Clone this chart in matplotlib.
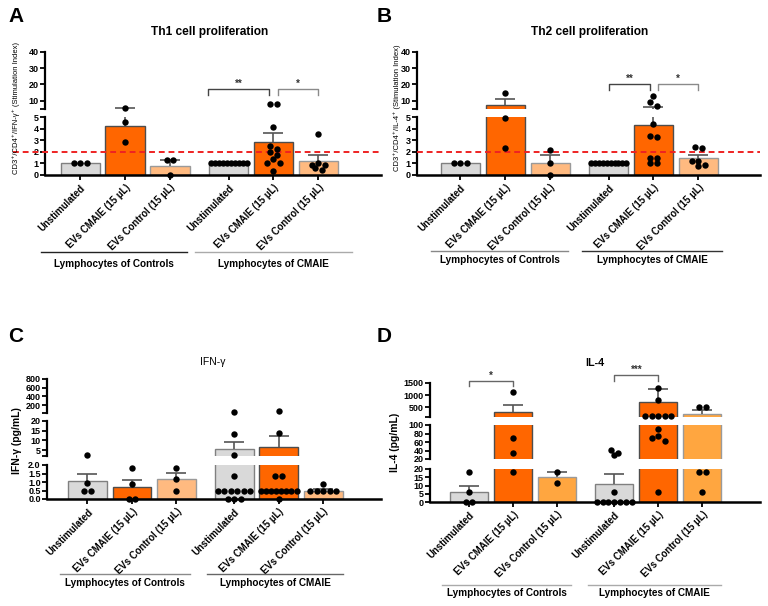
import matplotlib
matplotlib.use('Agg')
import matplotlib.pyplot as plt
from matplotlib.lines import Line2D

plt.rcParams['font.family'] = ['Liberation Sans', 'DejaVu Sans']

W, H = 768, 606

# categories (same for every panel)
conditions = ['Unstimulated', 'EVs CMAIE (15 μL)', 'EVs Control (15 μL)',
              'Unstimulated', 'EVs CMAIE (15 μL)', 'EVs Control (15 μL)']
groups = ['Lymphocytes of Controls', 'Lymphocytes of CMAIE']
positions = [0, 1, 2, 3.3, 4.3, 5.3]

# A - Th1 cell proliferation (stimulation index)
th1_mean = [1.0, 4.25, 0.82, 1.0, 2.85, 1.22]
th1_sem = [0, 1.35, 0.46, 0, 0.75, 0.5]
th1_points = [
    [1, 1, 1],
    [5.6, 4.6, 2.85],
    [1.28, 1.28, 0.0],
    [1, 1, 1, 1, 1, 1, 1, 1, 1, 1],
    [7.8, 7.8, 4.15, 2.49, 2.28, 1.96, 1.75, 1.4, 1.02, 1.02, 0.32],
    [3.55, 1.05, 0.85, 0.85, 0.6, 0.45],
]

# B - Th2 cell proliferation (stimulation index)
th2_mean = [1.0, 7.6, 1.05, 1.0, 4.3, 1.45]
th2_sem = [0, 3.7, 0.67, 0, 1.7, 0.3]
th2_points = [
    [1, 1, 1],
    [14.9, 4.95, 2.3],
    [2.2, 1.0, 0.0],
    [1, 1, 1, 1, 1, 1, 1, 1, 1, 1],
    [13.0, 9.0, 6.8, 4.4, 3.4, 3.25, 1.5, 1.5, 1.0, 1.0],
    [2.4, 2.3, 1.2, 1.2, 0.9, 0.75],
]

# C - IFN-gamma (pg/mL)
ifn_mean = [1.05, 0.7, 1.15, 5.4, 6.8, 0.5]
ifn_sem = [0.42, 0.43, 0.4, 3.6, 5.6, 0.08]
ifn_points = [
    [2.5, 0.92, 0.47, 0.47],
    [1.85, 0.9, 0.0, 0.0],
    [1.85, 1.15, 0.47],
    [50, 13.2, 2.7, 1.38, 0.47, 0.47, 0.47, 0.47, 0.47, 0.47, 0, 0, 0],
    [73, 13.7, 1.38, 1.38, 0.47, 0.47, 0.47, 0.47, 0.47, 0.47, 0.47, 0.47, 0],
    [0.9, 0.47, 0.47, 0.47, 0.47, 0.47],
]

# D - IL-4 (pg/mL)
il4_mean = [6, 318, 15, 10.9, 730, 211]
il4_sem = [3.9, 276, 3, 5.9, 510, 177]
il4_points = [
    [18, 6, 0, 0],
    [1142, 70, 34, 18],
    [18, 11.7],
    [41, 35, 29, 6, 0, 0, 0, 0, 0, 0, 0],
    [1306, 800, 141, 141, 141, 141, 141, 91, 74, 69, 63, 6],
    [524, 524, 18, 18, 6],
]

GRAY, ORANGE, LIGHT, LIGHT_D = '#D9D9D9', '#FF6600', '#FFBA80', '#FFA640'
EDGES = ['#808080', '#4D4D4D', '#9A9A9A', '#808080', '#4D4D4D', '#9A9A9A']


def px_rect(x0, x1, ytop, ybot):
    return [x0 / W, 1 - ybot / H, (x1 - x0) / W, (ybot - ytop) / H]


def find_seg(v, segs):
    for k, s in enumerate(segs):
        if v <= s[3] or k == len(segs) - 1:
            return k
    return len(segs) - 1


def value_px(v, segs):
    ytop, ybot, lo, hi = segs[find_seg(v, segs)]
    return ybot - (v - lo) / (hi - lo) * (ybot - ytop)


def swarm_offsets(vals, segs, bar_px, d=6.5):
    # rows of points at (almost) the same height, spread around the centre
    order = sorted(range(len(vals)), key=lambda i: -vals[i])
    rows, cur = [], []
    for i in order:
        if cur and abs(value_px(vals[i], segs) - value_px(vals[cur[0]], segs)) > 0.75 * d:
            rows.append(cur)
            cur = []
        cur.append(i)
    rows.append(cur)
    offs = [0.0] * len(vals)
    for row in rows:
        n = len(row)
        step = d if n < 2 else min(d, bar_px * 0.92 / (n - 1))
        slots = [(j - (n - 1) / 2) * step for j in range(n)]
        slots.sort(key=lambda s: (abs(s), s))
        for i, s in zip(row, slots):
            offs[i] = s
    return offs


def draw_panel(fig, x0, x1, segs, xlim, means, sems, points, colors, ticks, ticklabels):
    ppu = (x1 - x0) / (xlim[1] - xlim[0])
    axes = []
    for k, (ytop, ybot, lo, hi) in enumerate(segs):
        ax = fig.add_axes(px_rect(x0, x1, ytop, ybot))
        ax.set_xlim(xlim)
        ax.set_ylim(lo, hi)
        ax.bar(positions, means, width=0.87, color=colors, edgecolor=EDGES,
               linewidth=1.0, zorder=2)
        # upper SEM bars
        for x, m, s in zip(positions, means, sems):
            if s <= 0:
                continue
            ax.vlines(x, m, m + s, color='#555555', lw=1.2, zorder=3)
            if find_seg(m + s, segs) == k:
                ax.hlines(m + s, x - 10 / ppu, x + 10 / ppu, color='#555555',
                          lw=1.2, zorder=3, clip_on=False)
        for sp in ['top', 'right']:
            ax.spines[sp].set_visible(False)
        ax.spines['left'].set_linewidth(1.6)
        ax.set_yticks(ticks[k])
        ax.set_yticklabels(ticklabels[k], fontsize=6.5, fontweight='bold')
        ax.tick_params(axis='y', length=3.5, width=1.3, pad=1)
        if k == 0:
            ax.spines['bottom'].set_linewidth(1.8)
            ax.set_xticks(positions)
            ax.set_xticklabels(conditions, rotation=45, ha='right',
                               rotation_mode='anchor', fontsize=6.9, fontweight='bold')
            ax.tick_params(axis='x', length=3.5, width=1.3, pad=2)
        else:
            ax.spines['bottom'].set_visible(False)
            ax.set_xticks([])
        ax.patch.set_alpha(0)
        axes.append(ax)

    # individual values
    for x, vals in zip(positions, points):
        offs = swarm_offsets(vals, segs, 0.87 * ppu)
        for v, o in zip(vals, offs):
            ax = axes[find_seg(v, segs)]
            ax.plot(x + o / ppu, v, 'o', color='black', ms=4.6, mew=0,
                    clip_on=False, zorder=6)
    return axes


def bracket(ax, i, j, ytop, ydrop, label, color, a=0.0, b=0.0):
    xa, xb = positions[i] + a, positions[j] + b
    ax.plot([xa, xa, xb, xb], [ydrop, ytop, ytop, ydrop], color=color,
            lw=1.0, clip_on=False, zorder=5)
    ax.text((xa + xb) / 2, ytop, label, ha='center', va='bottom',
            fontsize=7, fontweight='bold', color='#333333')


def group_labels(fig, lines, y_line, y_text, colors):
    for (xa, xb), name, c in zip(lines, groups, colors):
        fig.add_artist(Line2D([xa / W, xb / W], [1 - y_line / H] * 2, color=c, lw=1.0))
        fig.text((xa + xb) / 2 / W, 1 - y_text / H, name, ha='center', va='center',
                 fontsize=7.2, fontweight='bold')


fig = plt.figure(figsize=(7.68, 6.06), dpi=100)

# ---------------- A ----------------
segs_ab = [(117.3, 175, 0, 5), (51.7, 109, 5, 40)]
ticks_ab = [[0, 1, 2, 3, 4, 5], [5, 10, 20, 30, 40]]
labels_ab = [['0', '1', '2', '3', '4', '5'], ['', '10', '20', '30', '40']]
cols_abc = [GRAY, ORANGE, LIGHT, GRAY, ORANGE, LIGHT]

axA = draw_panel(fig, 45, 381, segs_ab, (-0.78, 6.69), th1_mean, th1_sem,
                 th1_points, cols_abc, ticks_ab, labels_ab)
axA[0].axhline(2, xmin=-0.095, xmax=1.0, color='#EE2222', lw=1.4,
               ls=(0, (3, 2)), clip_on=False, zorder=4)
bracket(axA[1], 3, 4, 17.3, 13.6, '**', '#444444', a=-0.45, b=-0.1)
bracket(axA[1], 4, 5, 17.3, 13.6, '*', '#8A8A8A', a=0.1)
fig.text(210 / W, 1 - 32 / H, 'Th1 cell proliferation', ha='center', va='center',
         fontsize=8.6, fontweight='bold')
fig.text(16 / W, 1 - 108 / H, 'CD3⁺/CD4⁺/IFN-γ⁺ (Stimulation Index)', rotation=90,
         ha='center', va='center', fontsize=5.5)
group_labels(fig, [(41, 187), (195, 352)], 252, 264, ['#222222', '#AAAAAA'])

# ---------------- B ----------------
axB = draw_panel(fig, 417, 760, segs_ab, (-0.96, 6.67), th2_mean, th2_sem,
                 th2_points, cols_abc, ticks_ab, labels_ab)
axB[0].axhline(2, xmin=0, xmax=1.0, color='#EE2222', lw=1.4,
               ls=(0, (3, 2)), clip_on=False, zorder=4)
bracket(axB[1], 3, 4, 20.3, 16.6, '**', '#444444', b=-0.07)
bracket(axB[1], 4, 5, 20.3, 16.6, '*', '#8A8A8A', a=0.1)
fig.text(590 / W, 1 - 32 / H, 'Th2 cell proliferation', ha='center', va='center',
         fontsize=8.6, fontweight='bold')
fig.text(397 / W, 1 - 108 / H, 'CD3⁺/CD4⁺/IL-4⁺ (Stimulation Index)', rotation=90,
         ha='center', va='center', fontsize=5.5)
group_labels(fig, [(431, 568), (582, 722)], 251, 260, ['#888888', '#333333'])

# ---------------- C ----------------
segs_c = [(465, 499, 0, 2), (421, 456, 2, 20), (379, 413, 20, 800)]
ticks_c = [[0, 0.5, 1, 1.5, 2], [2, 5, 10, 15, 20], [20, 200, 400, 600, 800]]
labels_c = [['0.0', '0.5', '1.0', '1.5', '2.0'], ['', '5', '10', '15', '20'],
            ['', '200', '400', '600', '800']]
axC = draw_panel(fig, 47, 381, segs_c, (-0.91, 6.6), ifn_mean, ifn_sem,
                 ifn_points, cols_abc, ticks_c, labels_c)
fig.text(213 / W, 1 - 362 / H, 'IFN-γ', ha='center', va='center', fontsize=7.5)
fig.text(17 / W, 1 - 441 / H, 'IFN-γ (pg/mL)', rotation=90, ha='center',
         va='center', fontsize=7.5, fontweight='bold')
group_labels(fig, [(60, 190), (207, 343)], 574, 583, ['#8A8A8A', '#666666'])

# ---------------- D ----------------
segs_d = [(469, 502, 0, 20), (425, 459, 20, 100), (383, 417, 100, 1500)]
ticks_d = [[0, 5, 10, 15, 20], [20, 40, 60, 80, 100], [100, 500, 1000, 1500]]
labels_d = [['0', '5', '10', '15', '20'], ['20', '40', '60', '80', '100'],
            ['', '500', '1000', '1500']]
cols_d = [GRAY, ORANGE, LIGHT_D, GRAY, ORANGE, LIGHT_D]
axD = draw_panel(fig, 430, 760, segs_d, (-0.886, 6.61), il4_mean, il4_sem,
                 il4_points, cols_d, ticks_d, labels_d)
bracket(axD[2], 0, 1, 1594, 1376, '*', '#666666')
bracket(axD[2], 3, 4, 1829, 1582, '***', '#666666')
fig.text(595 / W, 1 - 363 / H, 'IL-4', ha='center', va='center', fontsize=7.8,
         fontweight='bold')
fig.text(395 / W, 1 - 442 / H, 'IL-4 (pg/mL)', rotation=90, ha='center',
         va='center', fontsize=7.5, fontweight='bold')
group_labels(fig, [(442, 571), (588, 721)], 585, 593, ['#AAAAAA', '#AAAAAA'])

# panel letters
for letter, (px, py) in zip('ABCD', [(16, 16), (384, 16), (16, 337), (384, 337)]):
    fig.text(px / W, 1 - py / H, letter, ha='center', va='center',
             fontsize=15, fontweight='bold')

fig.savefig('out.png', dpi=100)
